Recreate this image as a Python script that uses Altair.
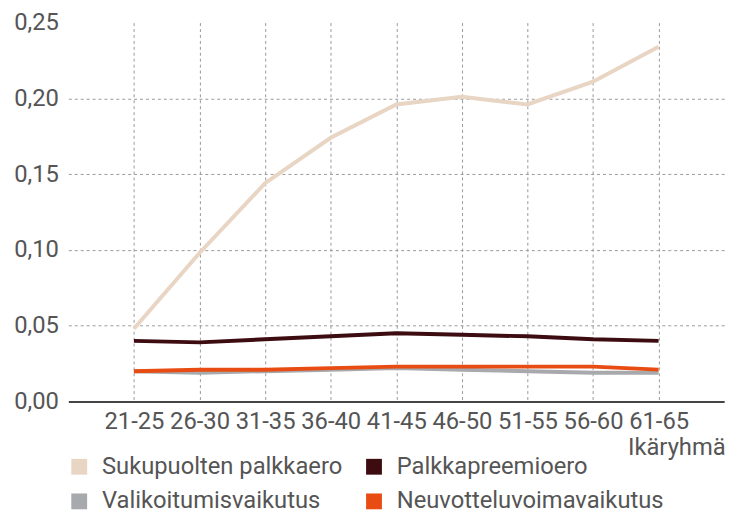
import altair as alt
import pandas as pd

groups = ["21-25", "26-30", "31-35", "36-40", "41-45", "46-50", "51-55", "56-60", "61-65"]
series_names = ["Sukupuolten palkkaero", "Palkkapreemioero", "Valikoitumisvaikutus", "Neuvotteluvoimavaikutus"]
sukupuolten = [0.048, 0.098, 0.144, 0.174, 0.196, 0.201, 0.196, 0.211, 0.234]
palkkapreemio = [0.040, 0.039, 0.041, 0.043, 0.045, 0.044, 0.043, 0.041, 0.040]
valikoitumis = [0.020, 0.019, 0.020, 0.021, 0.022, 0.021, 0.020, 0.019, 0.019]
neuvottelu = [0.020, 0.021, 0.021, 0.022, 0.023, 0.023, 0.023, 0.023, 0.021]
colors = ["#e8d5c4", "#3d0c11", "#a7a9ac", "#e84c12"]

rows = []
for i, (name, vals) in enumerate(zip(series_names, [sukupuolten, palkkapreemio, valikoitumis, neuvottelu])):
    for g, v in zip(groups, vals):
        rows.append({"Ikäryhmä": g, "arvo": v, "sarja": name, "ord": i})
df = pd.DataFrame(rows)

FONT = "Roboto"
FS = 24
TXT = "#555555"

x_enc = alt.X("Ikäryhmä:N", sort=groups,
              scale=alt.Scale(type="point", padding=1),
              axis=alt.Axis(title="Ikäryhmä", labelAngle=0, ticks=False, labelPadding=8,
                            domainColor="#444", domainWidth=2,
                            grid=True, gridDash=[3, 3], gridColor="#999",
                            titleAnchor="end", titleAlign="right", titleX=664, titleY=47,
                            titleBaseline="middle", titleFontWeight="normal"))
y_enc = alt.Y("arvo:Q", scale=alt.Scale(domain=[0, 0.25]),
              axis=alt.Axis(title=None, values=[0, 0.05, 0.10, 0.15, 0.20, 0.25],
                            labelExpr="replace(format(datum.value, '.2f'), '.', ',')",
                            domain=False, ticks=False, labelPadding=10,
                            grid=True, gridDash=[3, 3], gridColor="#999",
                            gridOpacity={"condition": {"test": "datum.value == 0.25 || datum.value == 0", "value": 0}, "value": 1}))
color_scale = alt.Scale(domain=series_names, range=colors)

lines = alt.Chart(df).mark_line(strokeWidth=4, strokeCap="butt").encode(
    x=x_enc, y=y_enc,
    color=alt.Color("sarja:N", scale=color_scale, legend=None),
    order=alt.Order("ord:Q"),
)

legend_marks = alt.Chart(df).mark_square(size=1, opacity=0).encode(
    x=x_enc, y=y_enc,
    color=alt.Color("sarja:N", scale=color_scale,
                    legend=alt.Legend(title=None, orient="none", legendX=-1, legendY=437,
                                      columns=2, symbolType="square", symbolSize=256,
                                      symbolOpacity=1, symbolStrokeWidth=0,
                                      columnPadding=20, rowPadding=11,
                                      labelOffset=11, labelLimit=400, direction="horizontal")),
)

chart = alt.layer(legend_marks, lines).properties(
    width=663, height=383,
    autosize=alt.AutoSizeParams(type="none"),
    padding={"left": 61, "top": 12, "right": 17, "bottom": 112},
).configure_view(strokeWidth=0).configure_axis(
    labelFont=FONT, titleFont=FONT, labelFontSize=FS, titleFontSize=FS,
    labelColor=TXT, titleColor=TXT,
).configure_legend(labelFont=FONT, labelFontSize=FS, labelColor=TXT)

chart.save("out.html", embed_options={"renderer": "svg", "actions": False})
